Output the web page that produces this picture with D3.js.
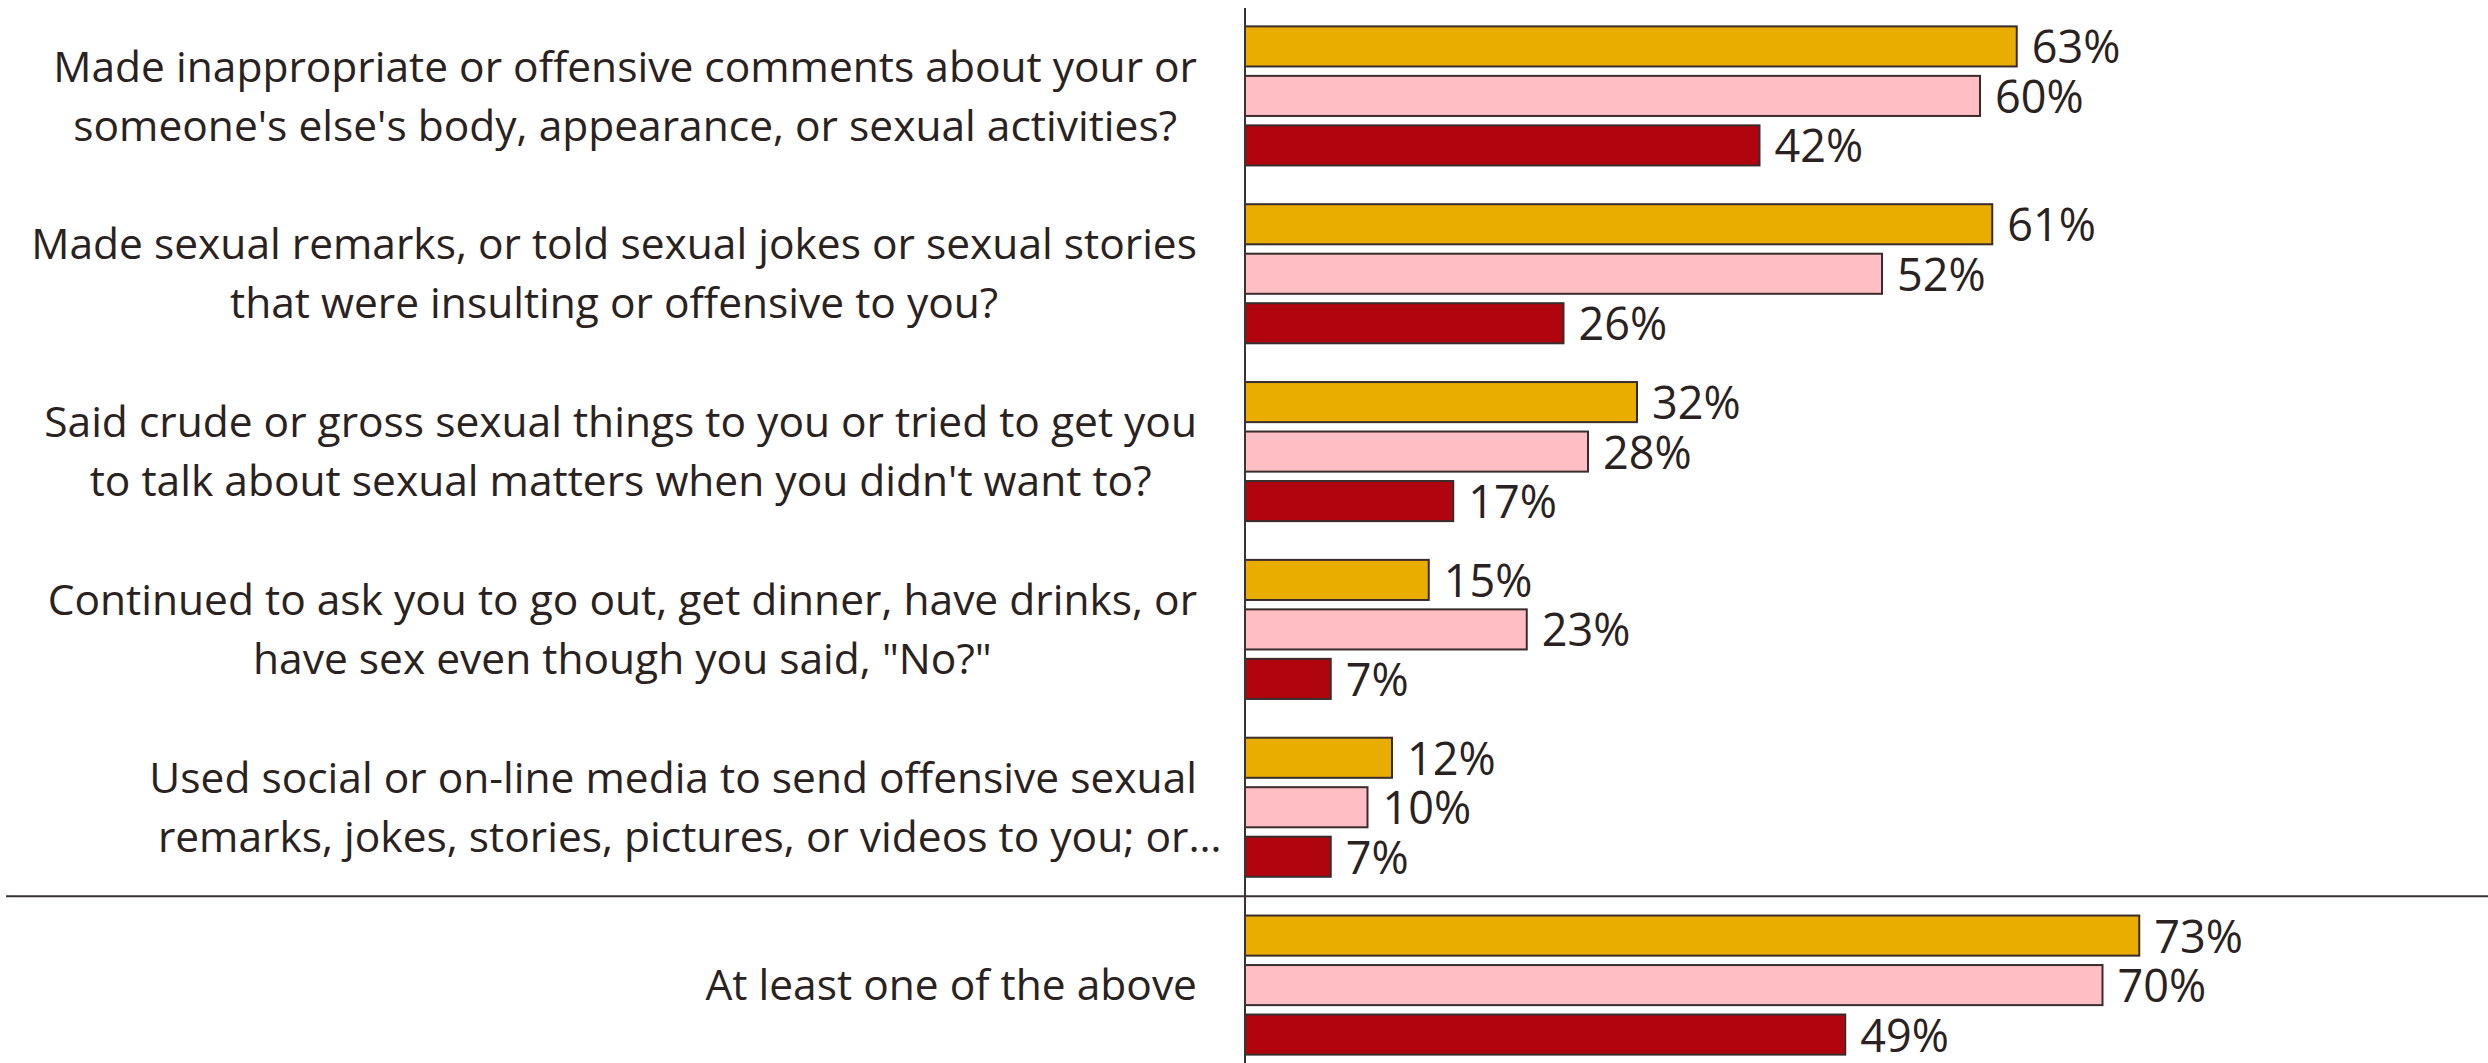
<!DOCTYPE html>
<html>
<head>
<meta charset="utf-8">
<script src="https://cdn.jsdelivr.net/npm/d3@7"></script>
<style>
  html, body { margin: 0; padding: 0; background: #ffffff; }
  svg { display: block; }
  text { font-family: "Open Sans", "Noto Sans", sans-serif; fill: #2a2221; }
</style>
</head>
<body>
<svg id="chart" width="2488" height="1063"></svg>
<script>
// Survey items (each entry is the list of wrapped lines shown beside the bars)
const categories = [
  "Made inappropriate or offensive comments",
  "Made sexual remarks",
  "Said crude or gross sexual things",
  "Continued to ask you to go out",
  "Used social or on-line media",
  "At least one of the above"
];
const categoryLines = [
  ["Made inappropriate or offensive comments about your or", "someone's else's body, appearance, or sexual activities?"],
  ["Made sexual remarks, or told sexual jokes or sexual stories", "that were insulting or offensive to you?"],
  ["Said crude or gross sexual things to you or tried to get you", "to talk about sexual matters when you didn't want to?"],
  ["Continued to ask you to go out, get dinner, have drinks, or", "have sex even though you said, \"No?\""],
  ["Used social or on-line media to send offensive sexual", "remarks, jokes, stories, pictures, or videos to you; or"],
  ["At least one of the above"]
];
// lines that were cut short and end with an ellipsis
const truncated = [false, false, false, false, true, false];

const series = ["gold", "pink", "red"];
const seriesColors = ["#e9ad00", "#ffbec3", "#b0050f"];

// percentage values per series, in category order
const goldValues = [63, 61, 32, 15, 12, 73];
const pinkValues = [60, 52, 28, 23, 10, 70];
const redValues  = [42, 26, 17, 7, 7, 49];
const seriesValues = [goldValues, pinkValues, redValues];

const svg = d3.select("#chart");
const W = 2488, H = 1063;
const axisX = 1245;

const x = d3.scaleLinear().domain([0, 100]).range([axisX, axisX + 1225]);
const y0 = d3.scaleBand().domain(categories).range([7, 1074])
  .paddingInner(0.218).paddingOuter(0.109);
const y1 = d3.scaleBand().domain(series).range([0, y0.bandwidth()])
  .paddingInner(0.19).paddingOuter(0);

const fontSize = 42.5;
const valueFontSize = 45;
const lineH = 59;
const capH = fontSize * 0.714;
const valueCapH = valueFontSize * 0.714;

// bars
const groups = svg.append("g").selectAll("g")
  .data(categories)
  .join("g")
  .attr("transform", d => `translate(0,${y0(d)})`);

groups.each(function (cat, ci) {
  const g = d3.select(this);
  series.forEach((s, si) => {
    const v = seriesValues[si][ci];
    g.append("rect")
      .attr("x", x(0))
      .attr("y", y1(s))
      .attr("width", x(v) - x(0))
      .attr("height", y1.bandwidth())
      .attr("fill", seriesColors[si])
      .attr("stroke", "#3a2c2c")
      .attr("stroke-width", 2);
    g.append("text")
      .attr("x", x(v) + 15)
      .attr("y", y1(s) + y1.bandwidth() / 2 + valueCapH / 2 + 1)
      .attr("font-size", valueFontSize)
      .text(v + "%");
  });
});

// category labels: block right-aligned to the axis, lines centered within the block
const labelRight = 1197;
categories.forEach((cat, ci) => {
  const lines = categoryLines[ci];
  const cy = y0(cat) + y0.bandwidth() / 2;
  const firstBase = cy - (lines.length - 1) * lineH / 2 + capH / 2;
  const texts = lines.map((ln, li) => svg.append("text")
    .attr("font-size", fontSize)
    .attr("y", firstBase + li * lineH)
    .text(ln));
  const widths = texts.map(t => t.node().getComputedTextLength());
  const blockW = d3.max(widths);
  const center = labelRight - blockW / 2;
  texts.forEach((t, li) => {
    t.attr("x", center - widths[li] / 2);
    if (truncated[ci] && li === lines.length - 1) t.append("tspan").text("\u2026");
  });
});

// value axis line
svg.append("line")
  .attr("x1", axisX).attr("x2", axisX)
  .attr("y1", 8).attr("y2", H)
  .attr("stroke", "#3a3333").attr("stroke-width", 2);

// separator between the individual items and the summary row
const sepY = (y0(categories[4]) + y0.bandwidth() + y0(categories[5])) / 2;
svg.append("line")
  .attr("x1", 6).attr("x2", W)
  .attr("y1", sepY).attr("y2", sepY)
  .attr("stroke", "#3a3333").attr("stroke-width", 2);
</script>
</body>
</html>
